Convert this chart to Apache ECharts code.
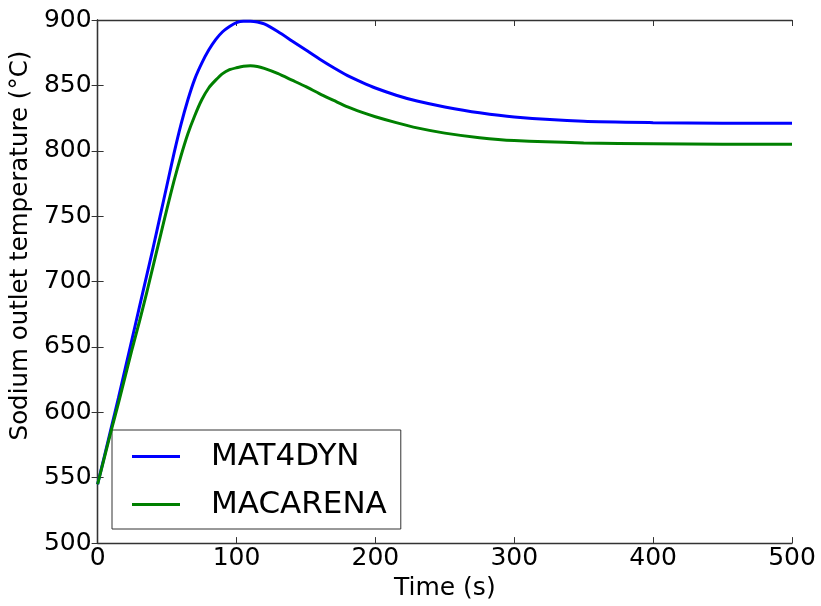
<!DOCTYPE html>
<html>
<head>
<meta charset="utf-8">
<script src="https://cdn.jsdelivr.net/npm/echarts@6/dist/echarts.min.js"></script>
<style>
html,body{margin:0;padding:0;background:#fff;}
#chart{width:821px;height:606px;}
</style>
</head>
<body>
<div id="chart"></div>
<script>
const timeS = [0,5,10,15,20,25,30,35,40,45,50,55,60,65,70,75,80,85,90,95,100,105,110,115,120,130,140,150,160,170,180,190,200,215,230,250,275,300,350,400,450,500];
const mat4dyn = [545,567,589,611,634,657,680,703,726,750,774,798,820,839,855,867,877,885,891,895,898,899,899,898.5,897,891,884,877,870,863.5,857.5,852.5,848,842.5,838,833.5,829,825.8,822.5,821.5,821,821];
const macarena = [545,566,587,607,628,649,669,690,712,734,756,777,796,813,827,839,848,854,859,862,863.5,864.7,865,864.5,863,859,854,849,843.5,838.5,833.5,829.5,826,821.5,817.5,813.5,810,807.8,806,805.4,805,805];
const xTicks = [0,100,200,300,400,500];
const yTicks = [500,550,600,650,700,750,800,850,900];
const seriesNames = ['MAT4DYN','MACARENA'];

const FONT = 'DejaVu Sans';
const toPairs = (xs, ys) => xs.map((x,i)=>[x, ys[i]]);
const axisLine = {show:true, lineStyle:{color:'#333', width:1.3}};

const chart = echarts.init(document.getElementById('chart'));
chart.setOption({
  animation:false,
  backgroundColor:'#fff',
  grid:{left:96, right:29, top:20, bottom:62.5, show:false},
  legend:{
    orient:'vertical', left:112, top:430,
    data:seriesNames,
    icon:'rect', itemWidth:48, itemHeight:3, itemGap:13,
    padding:[9,14,7,20],
    borderColor:'#333', borderWidth:1, backgroundColor:'#fff',
    textStyle:{fontFamily:FONT, fontSize:31, color:'#000', lineHeight:35, padding:[0,0,0,26]}
  },
  xAxis:[{
    type:'value', min:xTicks[0], max:xTicks[xTicks.length-1], interval:100,
    name:'Time (s)', nameLocation:'middle', nameGap:27,
    nameTextStyle:{fontFamily:FONT, fontSize:25, color:'#000'},
    axisLine:axisLine, axisTick:{show:true, inside:true, length:6, lineStyle:{color:'#333'}},
    axisLabel:{fontFamily:FONT, fontSize:25, color:'#000', margin:3},
    splitLine:{show:false}
  },{
    type:'value', position:'top', min:xTicks[0], max:xTicks[xTicks.length-1], interval:100,
    axisLine:axisLine, axisTick:{show:true, inside:true, length:6, lineStyle:{color:'#333'}},
    axisLabel:{show:false}, splitLine:{show:false}
  }],
  yAxis:[{
    type:'value', min:yTicks[0], max:yTicks[yTicks.length-1], interval:50,
    name:'Sodium outlet temperature (°C)', nameLocation:'middle', nameGap:62, nameRotate:90,
    nameTextStyle:{fontFamily:FONT, fontSize:24.5, color:'#000', padding:[0,0,0,72]},
    axisLine:axisLine, axisTick:{show:true, inside:true, length:6, lineStyle:{color:'#333'}},
    axisLabel:{fontFamily:FONT, fontSize:25, color:'#000', margin:6},
    splitLine:{show:false}
  },{
    type:'value', position:'right', min:yTicks[0], max:yTicks[yTicks.length-1], interval:50,
    axisLine:axisLine, axisTick:{show:true, inside:true, length:6, lineStyle:{color:'#333'}},
    axisLabel:{show:false}, splitLine:{show:false}
  }],
  series:[{
    name:seriesNames[0], type:'line', data:toPairs(timeS, mat4dyn), smooth:0.2,
    showSymbol:false, lineStyle:{color:'#0000ff', width:3}, itemStyle:{color:'#0000ff'}, z:3
  },{
    name:seriesNames[1], type:'line', data:toPairs(timeS, macarena), smooth:0.2,
    showSymbol:false, lineStyle:{color:'#008000', width:3}, itemStyle:{color:'#008000'}, z:4
  }]
});
</script>
</body>
</html>
